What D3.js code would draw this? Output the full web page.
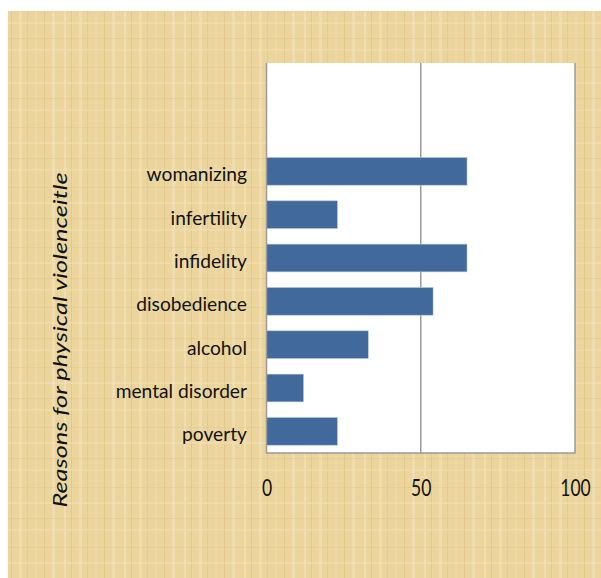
<!DOCTYPE html>
<html>
<head>
<meta charset="utf-8">
<script src="https://cdn.jsdelivr.net/npm/d3@7"></script>
<style>
  html, body { margin: 0; padding: 0; background: #ffffff; }
  svg { display: block; }
</style>
</head>
<body>
<svg id="chart" width="601" height="578"></svg>
<script>
// Data (bottom to top as drawn)
const categories = ["poverty", "mental disorder", "alcohol", "disobedience", "infidelity", "infertility", "womanizing"];
const values = [23, 12, 33, 54, 65, 23, 65];
const xTicks = [0, 50, 100];
const yTitle = "Reasons for physical violenceitle";

const svg = d3.select("#chart");
const W = 601, H = 578;

// Papyrus-like background
const defs = svg.append("defs");
const pat = defs.append("pattern").attr("id", "papyrus")
  .attr("patternUnits", "userSpaceOnUse").attr("width", 60).attr("height", 60);
pat.append("rect").attr("width", 60).attr("height", 60).attr("fill", "#ebd59c");
[[4,2,"#f3e3b8",0.7],[11,1,"#d8bd7c",0.5],[19,3,"#f4e6c2",0.5],[27,1,"#d9bf80",0.4],[35,2,"#efdcaa",0.6],[44,1,"#d8bd7c",0.5],[52,3,"#f5e8c6",0.45]]
  .forEach(([x,w,c,o]) => pat.append("rect").attr("x", x).attr("y", 0).attr("width", w).attr("height", 60).attr("fill", c).attr("opacity", o));
[[7,1,"#dcc285",0.35],[22,2,"#f3e4bc",0.4],[38,1,"#d8be7e",0.3],[49,2,"#f2e1b5",0.4]]
  .forEach(([y,h,c,o]) => pat.append("rect").attr("x", 0).attr("y", y).attr("width", 60).attr("height", h).attr("fill", c).attr("opacity", o));

svg.append("rect").attr("x", 8).attr("y", 11).attr("width", W - 8).attr("height", H - 11)
  .attr("fill", "url(#papyrus)");

// Plot area
const plot = { left: 266.5, right: 575, top: 63, bottom: 453 };

const x = d3.scaleLinear().domain([0, 100]).range([plot.left, plot.right]);
const yDomain = categories.concat(["__blank1", "__blank2"]);
const y = d3.scaleBand().domain(yDomain).range([plot.bottom, plot.top])
  .paddingInner(0.36).paddingOuter(0.18);

svg.append("rect")
  .attr("x", plot.left).attr("y", plot.top)
  .attr("width", plot.right - plot.left).attr("height", plot.bottom - plot.top)
  .attr("fill", "#ffffff");

// Gridlines
svg.append("g").selectAll("line").data(xTicks.filter(t => t > 0 && t < 100)).join("line")
  .attr("x1", d => x(d)).attr("x2", d => x(d))
  .attr("y1", plot.top).attr("y2", plot.bottom)
  .attr("stroke", "#9a9a9a").attr("stroke-width", 1.5);

// Bars
const data = categories.map((c, i) => ({ c, v: values[i] }));
svg.append("g").selectAll("rect").data(data).join("rect")
  .attr("x", x(0))
  .attr("y", d => y(d.c))
  .attr("width", d => x(d.v) - x(0))
  .attr("height", y.bandwidth())
  .attr("fill", "#41699b")
  .attr("stroke", "#b9c8dc").attr("stroke-width", 0.6);

// Frame (left, right, bottom)
const frame = svg.append("g").attr("stroke", "#9a9a9a").attr("stroke-width", 1.5).attr("fill", "none");
frame.append("path").attr("d", `M${plot.left},${plot.top}V${plot.bottom}H${plot.right}V${plot.top}`);

// Category labels
svg.append("g").selectAll("text").data(categories).join("text")
  .attr("x", 247)
  .attr("y", d => y(d) + y.bandwidth() / 2 + 10)
  .attr("text-anchor", "end")
  .attr("font-family", "Lato, 'Open Sans', sans-serif")
  .attr("font-size", 19.2)
  .attr("fill", "#111")
  .text(d => d);

// X tick labels (vertically stretched like the reference)
const xAxis = d3.axisBottom(x).tickValues(xTicks).tickSize(0).tickPadding(0);
const gx = svg.append("g").attr("transform", `translate(0, ${plot.bottom})`).call(xAxis);
gx.select(".domain").remove();
gx.selectAll(".tick text")
  .attr("y", 0).attr("dy", 0)
  .attr("transform", "translate(0, 42.7) scale(1, 1.3)")
  .attr("font-family", "Lato, 'Open Sans', sans-serif")
  .attr("font-size", 17.5)
  .attr("fill", "#111");

// Y axis title (stretched along its length like the reference)
svg.append("text")
  .attr("transform", `translate(67, 340) rotate(-90) scale(1.3, 1)`)
  .attr("text-anchor", "middle")
  .attr("font-family", "Lato, 'Open Sans', sans-serif")
  .attr("font-style", "italic")
  .attr("font-size", 19.5)
  .attr("fill", "#111")
  .text(yTitle);
</script>
</body>
</html>
